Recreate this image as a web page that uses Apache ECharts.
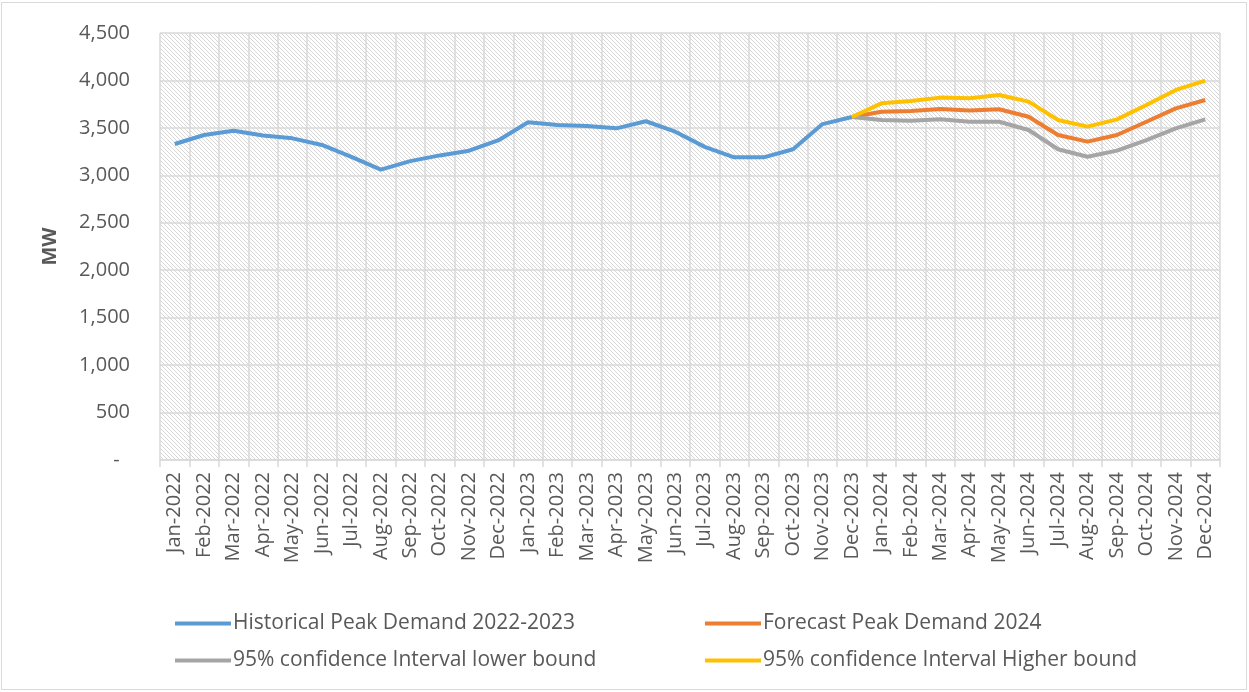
<!DOCTYPE html>
<html>
<head>
<meta charset="utf-8">
<script src="https://cdn.jsdelivr.net/npm/echarts@6/dist/echarts.min.js"></script>
<style>
  html, body { margin: 0; padding: 0; background: #fff; }
  #chart { width: 1249px; height: 692px; }
</style>
</head>
<body>
<div id="chart"></div>
<script>
const months = ['Jan','Feb','Mar','Apr','May','Jun','Jul','Aug','Sep','Oct','Nov','Dec'];
const years = [2022, 2023, 2024];
const categories = [];
years.forEach((y) => months.forEach((m) => categories.push(m + '-' + y)));

// MW
const historical = [3330, 3425, 3470, 3420, 3390, 3320, 3195, 3060, 3150, 3210, 3260, 3370,
                    3560, 3530, 3520, 3495, 3570, 3460, 3300, 3190, 3190, 3275, 3540, 3615];
// forecast series start at Dec-2023
const forecast = [3615, 3670, 3678, 3700, 3682, 3696, 3618, 3425, 3355, 3425, 3565, 3706, 3794];
const lowerBound = [3615, 3583, 3576, 3590, 3565, 3565, 3478, 3275, 3196, 3260, 3372, 3495, 3590];
const higherBound = [3615, 3759, 3784, 3819, 3812, 3847, 3777, 3583, 3513, 3590, 3741, 3900, 3998];

const yTicks = { min: 0, max: 4500, interval: 500 };

function pad(arr) {
  let out = new Array(categories.length - arr.length).fill(null);
  return out.concat(arr);
}

// hatched plot background, like the excel pattern fill
function hatch() {
  let c = document.createElement('canvas');
  c.width = 4;
  c.height = 4;
  let ctx = c.getContext('2d');
  ctx.fillStyle = '#ffffff';
  ctx.fillRect(0, 0, 4, 4);
  ctx.fillStyle = '#d6d6d6';
  for (let i = 0; i < 4; i++) ctx.fillRect(i, i, 1, 1);
  return c;
}

const font = '"Open Sans", sans-serif';
const textColor = '#595959';
const gridColor = '#d9d9d9';

let myChart = echarts.init(document.getElementById('chart'));

let legendBase = {
  top: 613, orient: 'vertical', itemGap: 16, padding: 0,
  itemWidth: 56, itemHeight: 4, icon: 'rect',
  textStyle: { fontFamily: font, fontSize: 21, color: textColor, padding: [0, 0, 0, -3] },
};

let option = {
  animation: false,
  backgroundColor: '#fff',
  graphic: [{
    type: 'rect',
    shape: { x: 1.5, y: 2.5, width: 1245, height: 687 },
    style: { fill: 'none', stroke: gridColor, lineWidth: 1 },
    silent: true,
  }],
  grid: {
    left: 160, right: 29, top: 33, bottom: 232,
    show: true,
    borderWidth: 0,
    backgroundColor: { image: hatch(), repeat: 'repeat' },
  },
  legend: [
    Object.assign({}, legendBase, {
      left: 175,
      data: ['Historical Peak Demand 2022-2023', '95% confidence Interval lower bound'],
    }),
    Object.assign({}, legendBase, {
      left: 705,
      data: ['Forecast Peak Demand 2024', '95% confidence Interval Higher bound'],
    }),
  ],
  xAxis: {
    type: 'category',
    data: categories,
    boundaryGap: true,
    axisLine: { lineStyle: { color: gridColor, width: 1.5 } },
    axisTick: { show: true, length: 7, lineStyle: { color: gridColor, width: 1.5 } },
    splitLine: { show: true, lineStyle: { color: gridColor, width: 1.5 } },
    axisLabel: {
      interval: 0, rotate: 90, margin: 12,
      fontFamily: font, fontSize: 20, color: textColor,
    },
  },
  yAxis: {
    type: 'value',
    min: yTicks.min, max: yTicks.max, interval: yTicks.interval,
    name: 'MW',
    nameLocation: 'middle',
    nameRotate: 90,
    nameGap: 100,
    nameTextStyle: { fontFamily: font, fontSize: 20, fontWeight: 'bold', color: textColor },
    axisLine: { show: false },
    axisTick: { show: false },
    splitLine: { show: true, lineStyle: { color: gridColor, width: 1.5 } },
    axisLabel: {
      margin: 30, fontFamily: font, fontSize: 20, color: textColor,
      formatter: function (value) {
        if (value === 0) return '-  ';
        return value.toLocaleString('en-US');
      },
    },
  },
  series: [
    {
      name: 'Historical Peak Demand 2022-2023', type: 'line',
      data: historical, color: '#5B9BD5',
      symbol: 'none', lineStyle: { width: 4 },
    },
    {
      name: 'Forecast Peak Demand 2024', type: 'line',
      data: pad(forecast), color: '#ED7D31',
      symbol: 'none', lineStyle: { width: 4 },
    },
    {
      name: '95% confidence Interval lower bound', type: 'line',
      data: pad(lowerBound), color: '#A5A5A5',
      symbol: 'none', lineStyle: { width: 4 },
    },
    {
      name: '95% confidence Interval Higher bound', type: 'line',
      data: pad(higherBound), color: '#FFC000',
      symbol: 'none', lineStyle: { width: 4 },
    },
  ],
};

myChart.setOption(option);
</script>
</body>
</html>
